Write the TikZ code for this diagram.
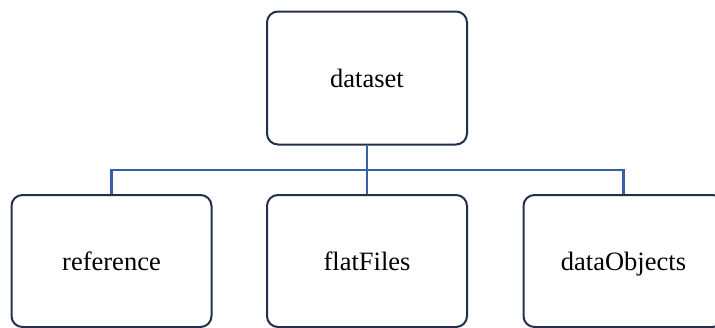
\documentclass[tikz,border=0pt]{standalone}
\usepackage{fontspec}
\setmainfont{Liberation Serif}
\usepackage{xcolor}
\usepackage{tikz}
\usetikzlibrary{positioning}

\definecolor{linkblue}{HTML}{3A5DA8}
\definecolor{boxedge}{HTML}{22304A}

\begin{document}
\begin{tikzpicture}[x=1pt, y=-1pt,
  box/.style={draw=boxedge, line width=2pt, rounded corners=11pt, fill=white,
    minimum width=200pt, minimum height=133pt, inner sep=0pt,
    text height=21pt, text depth=3pt,
    font=\fontsize{26.5}{30}\selectfont},
  link/.style={draw=linkblue, line width=2.6pt}]
\useasboundingbox (0,0) rectangle (715,327);
\node[box] (ds) at (367,78) {dataset};
\node[box, minimum height=132pt] (ref) at (111.5,261) {reference};
\node[box, minimum height=132pt] (flat) at (367,261) {flatFiles};
\node[box, minimum height=132pt] (obj) at (623.5,261) {dataObjects};
\coordinate (bus) at (367,170);
\draw[link] (ds.south) -- (flat.north);
\draw[link] (ref.north) |- (bus) -| (obj.north);
\end{tikzpicture}
\end{document}
